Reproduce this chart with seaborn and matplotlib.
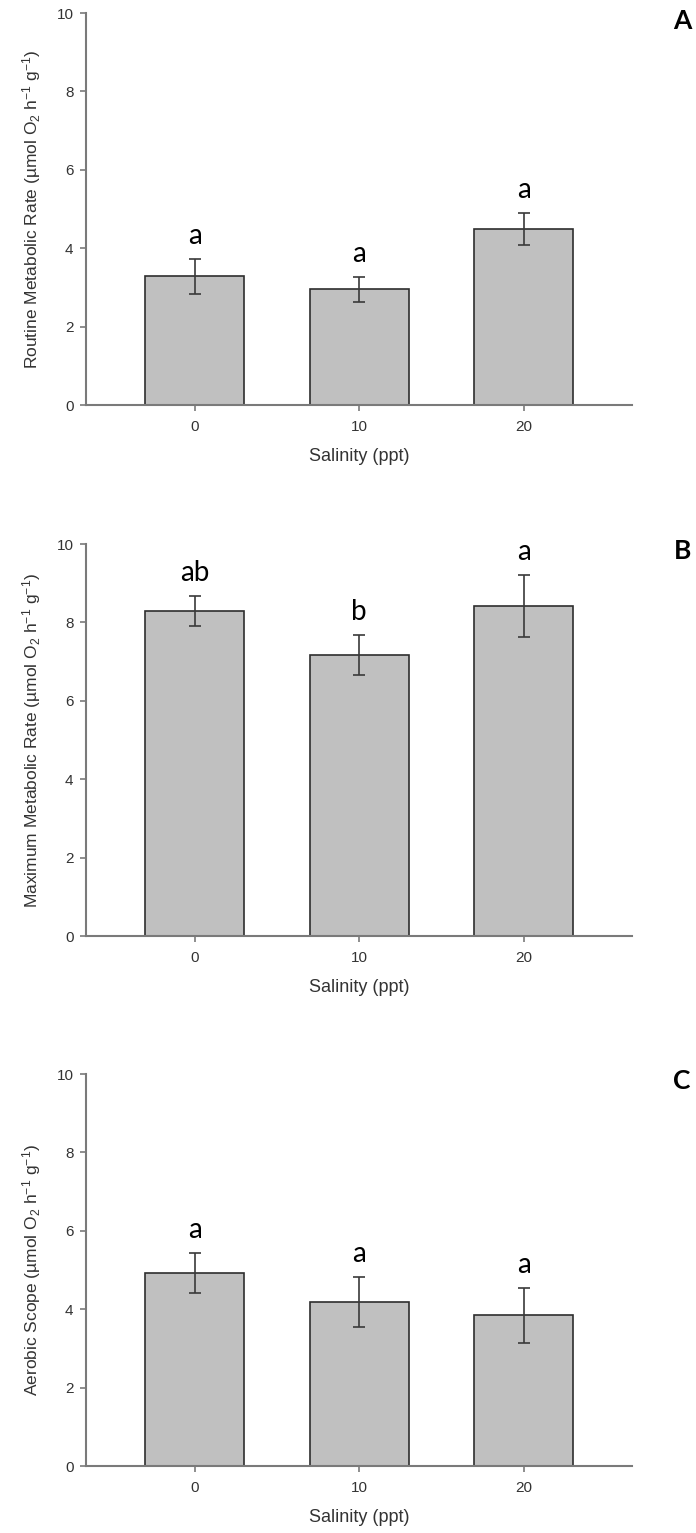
import numpy as np
import seaborn as sns
import matplotlib
matplotlib.use("Agg")
import matplotlib.pyplot as plt

# data (mean +/- error bar half-width)
salinity = ["0", "10", "20"]
routine = [3.28, 2.95, 4.50]
routine_err = [0.45, 0.31, 0.41]
routine_sig = ["a", "a", "a"]
maximum = [8.30, 7.18, 8.42]
maximum_err = [0.38, 0.51, 0.79]
maximum_sig = ["ab", "b", "a"]
scope = [4.93, 4.19, 3.84]
scope_err = [0.51, 0.64, 0.70]
scope_sig = ["a", "a", "a"]

ylabels = ["Routine Metabolic Rate", "Maximum Metabolic Rate", "Aerobic Scope"]
panel_tags = ["A", "B", "C"]
yticks = [0, 2, 4, 6, 8, 10]

sns.set_style("ticks")
plt.rcParams['font.family'] = ['Liberation Sans', 'DejaVu Sans']
plt.rcParams['mathtext.fontset'] = 'custom'
plt.rcParams['mathtext.rm'] = 'Liberation Sans'
plt.rcParams['mathtext.it'] = 'Liberation Sans:italic'
plt.rcParams['mathtext.bf'] = 'Liberation Sans:bold'

axis_col = "#7a7a7a"
text_col = "#333333"
bar_col = "#c0c0c0"

fig = plt.figure(figsize=(6.96, 15.33), dpi=100)
# axes boxes in figure fraction (left, bottom, width, height)
boxes = [(0.1236, 0.7358, 0.785, 0.2557),
         (0.1236, 0.3894, 0.785, 0.2557),
         (0.1236, 0.0437, 0.785, 0.2557)]

panels = [(routine, routine_err, routine_sig),
          (maximum, maximum_err, maximum_sig),
          (scope, scope_err, scope_sig)]

for i, (vals, errs, sig) in enumerate(panels):
  ax = fig.add_axes(boxes[i])
  sns.barplot(x=salinity, y=vals, order=salinity, color=bar_col,
              edgecolor="#2e2e2e", linewidth=1.2, width=0.6,
              errorbar=None, saturation=1, ax=ax)
  ax.errorbar(np.arange(len(vals)), vals, yerr=errs, fmt="none",
              ecolor="#3a3a3a", elinewidth=1.2, capsize=4, capthick=1.2)
  for j in range(len(vals)):
    ax.text(j, vals[j] + errs[j] + 0.38, sig[j], ha="center", va="baseline",
            fontsize=20, family=["Lato", "DejaVu Sans"], color="black")

  ax.set_xlim(-0.66, 2.66)
  ax.set_ylim(0, 10)
  ax.set_yticks(yticks)
  sns.despine(ax=ax)
  for s in ["left", "bottom"]:
    ax.spines[s].set_color(axis_col)
    ax.spines[s].set_linewidth(1.5)
  ax.tick_params(axis="both", direction="out", length=4, width=1.2,
                 color=axis_col, labelsize=11, labelcolor=text_col, pad=5)
  ax.tick_params(axis="x", pad=7)
  ax.set_xlabel("Salinity (ppt)", fontsize=13, color=text_col, labelpad=10)
  ax.set_ylabel(ylabels[i] + r" (µmol O$_2$ h$^{-1}$ g$^{-1}$)",
                fontsize=12.5, color=text_col, labelpad=10)
  fig.text(0.98, 1 - (21 + 530 * i) / 1533, panel_tags[i], ha="center",
           va="center", fontsize=19, fontweight="bold",
           family=["Lato", "DejaVu Sans"], color="black")

fig.savefig("out.png", dpi=100)
